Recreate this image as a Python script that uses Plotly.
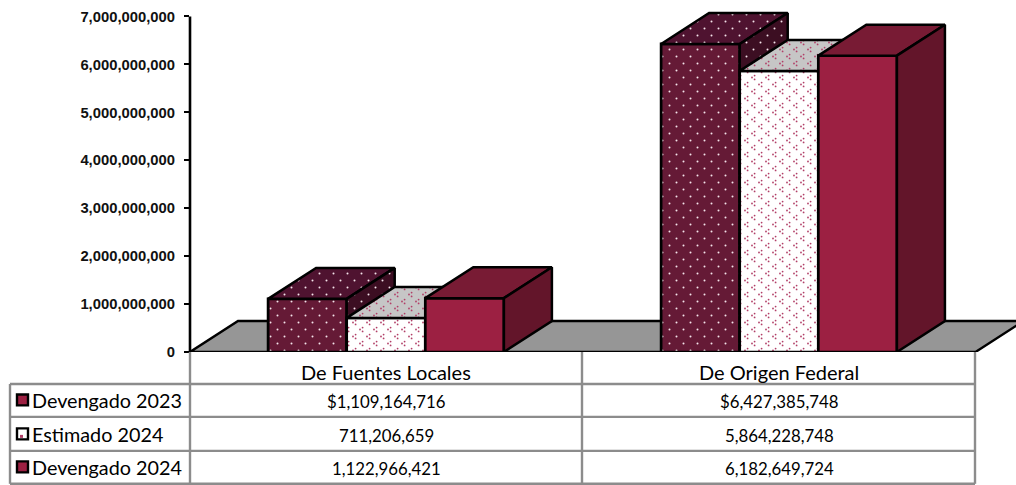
import plotly.graph_objects as go

categories = ["De Fuentes Locales", "De Origen Federal"]
series_names = ["Devengado 2023", "Estimado 2024", "Devengado 2024"]
devengado_2023 = [1109164716, 6427385748]
estimado_2024 = [711206659, 5864228748]
devengado_2024 = [1122966421, 6182649724]
all_values = [devengado_2023, estimado_2024, devengado_2024]
y_ticks = [0, 1e9, 2e9, 3e9, 4e9, 5e9, 6e9, 7e9]

W, H = 1016, 485
L, T, B = 190, 3.5, 133.0
PX_PER_CAT = 393.0
PX_PER_UNIT = 48.0 / 1e9
Y_MAX = (H - T - B) / PX_PER_UNIT
X0 = 386.0
BAR_W = 0.2
DX = 48 / PX_PER_CAT
DY = 31 / PX_PER_UNIT


def px(xp):
    return (xp - L) / (W - L)


def py(yp):
    return 1 - (yp - T) / (H - T - B)


def dots(points, r):
    return "".join(
        f"M{x - r},{y}a{r},{r} 0 1,0 {2 * r},0a{r},{r} 0 1,0 {-2 * r},0Z" for x, y in points
    )


dot_path = dots([(3.5, 3.5), (10.5, 10.5)], 1.0)
tref = []
for cx, cy in [(3.5, 3.5), (10.5, 10.5)]:
    tref += [(cx - 1.5, cy), (cx + 1.1, cy - 1.9), (cx + 1.1, cy + 1.9)]
tref_path = dots(tref, 0.9)


def make_pattern(path, fg, bg):
    return dict(path=path, size=14, fgcolor=fg, bgcolor=bg, solidity=0.12, fgopacity=1)


styles = [
    dict(front="#651a36", top="#4f1330", side="#3c0e22", pat=dot_path, fg="#f4e3ea"),
    dict(front="#ffffff", top="#c6c6c6", side="#c6c6c6", pat=tref_path, fg="#b23f68"),
    dict(front="#9c2042", top="#781b34", side="#63152a", pat=None, fg=None),
]

fig = go.Figure()

for i, (name, vals, st) in enumerate(zip(series_names, all_values, styles)):
    offs = -0.3 + i * BAR_W
    marker = dict(color=st["front"], line=dict(color="black", width=2.7))
    if st["pat"]:
        marker["pattern"] = make_pattern(st["pat"], st["fg"], st["front"])
    fig.add_trace(go.Bar(x=[0, 1], y=vals, base=0, width=BAR_W, offset=offs, name=name,
                         marker=marker, zorder=2 * i, showlegend=False, cliponaxis=False))
    for k, v in enumerate(vals):
        l = k + offs
        r = l + BAR_W
        faces = [
            ([l, r, r + DX, l + DX, l], [v, v, v + DY, v + DY, v], st["top"]),
            ([r, r + DX, r + DX, r, r], [v, v + DY, DY, 0, v], st["side"]),
        ]
        for xs, ys, col in faces:
            kw = {}
            if st["pat"]:
                kw["fillpattern"] = make_pattern(st["pat"], st["fg"], col)
            fig.add_trace(go.Scatter(x=xs, y=ys, mode="lines", fill="toself", fillcolor=col,
                                     line=dict(color="black", width=2.5), zorder=2 * i + 1,
                                     showlegend=False, cliponaxis=False, hoverinfo="skip", **kw))

shapes = [
    dict(type="path", xref="x", yref="y", layer="below",
         path=f"M -0.4987,0 L {-0.4987 + DX},{DY} L 2,{DY} L {1.5 + DX},{DY} L 1.5,0 Z",
         fillcolor="#969696", line=dict(color="black", width=2.4)),
    dict(type="line", xref="paper", yref="y", x0=0, x1=0, y0=0, y1=y_ticks[-1],
         line=dict(color="black", width=2.6)),
]

GRID = "#8c8c8c"
for yp, x0, x1 in [(384, 10, 975), (417, 10, 975), (451, 10, 975), (484, 10, 975)]:
    shapes.append(dict(type="line", xref="paper", yref="paper", x0=px(x0), x1=px(x1), y0=py(yp), y1=py(yp),
                       line=dict(color=GRID, width=2.4)))
for xp, y0 in [(10, 384), (190, 352), (582, 352), (975, 352)]:
    shapes.append(dict(type="line", xref="paper", yref="paper", x0=px(xp), x1=px(xp), y0=py(y0), y1=py(484),
                       line=dict(color=GRID, width=2.4)))

annotations = []
FONT = "Lato"


def label(xp, yp, text, anchor="center", size=18):
    annotations.append(dict(xref="paper", yref="paper", x=px(xp), y=py(yp), text=text, showarrow=False,
                            xanchor=anchor, yanchor="middle", font=dict(family=FONT, size=size, color="black")))


CENTERS = [X0, X0 + PX_PER_CAT]
for k, c in enumerate(categories):
    label(CENTERS[k], 372, c, size=20)
rows = [400, 434, 467]
key_fill = ["#9c2042", "#ffffff", "#9c2042"]
for i, (name, vals) in enumerate(zip(series_names, all_values)):
    label(30, rows[i], name, anchor="left", size=19.8)
    for k, v in enumerate(vals):
        label(CENTERS[k], rows[i] + 1.5, ("$" if i == 0 else "") + f"{v:,}", size=16.8)
    shapes.append(dict(type="rect", xref="paper", yref="paper", x0=px(17), x1=px(28),
                       y0=py(rows[i] - 5.5), y1=py(rows[i] + 5.5), fillcolor=key_fill[i],
                       line=dict(color="black", width=2.4)))
shapes.append(dict(type="rect", xref="paper", yref="paper", x0=px(20), x1=px(23),
                   y0=py(rows[1] + 1), y1=py(rows[1] + 4), fillcolor="#b23f68", line=dict(width=0)))

fig.update_layout(
    width=W, height=H, autosize=False, paper_bgcolor="white", plot_bgcolor="rgba(0,0,0,0)",
    margin=dict(l=L, r=0, t=T, b=B, pad=0), barmode="overlay", showlegend=False,
    shapes=shapes, annotations=annotations,
    xaxis=dict(range=[-0.4987, 1.603], showgrid=False, zeroline=False, showticklabels=False, ticks="", showline=False),
    yaxis=dict(range=[0, Y_MAX], tickvals=y_ticks, tickformat=",d", showgrid=False, zeroline=False,
               showline=False, ticks="outside", ticklen=5, tickwidth=1.5, ticklabelstandoff=6,
               tickcolor="black", tickfont=dict(family="Liberation Sans", size=14.8, color="#111111", weight="bold")),
)

fig.write_html("out.html", config={"displayModeBar": False}, post_script="document.body.style.margin='0';")
